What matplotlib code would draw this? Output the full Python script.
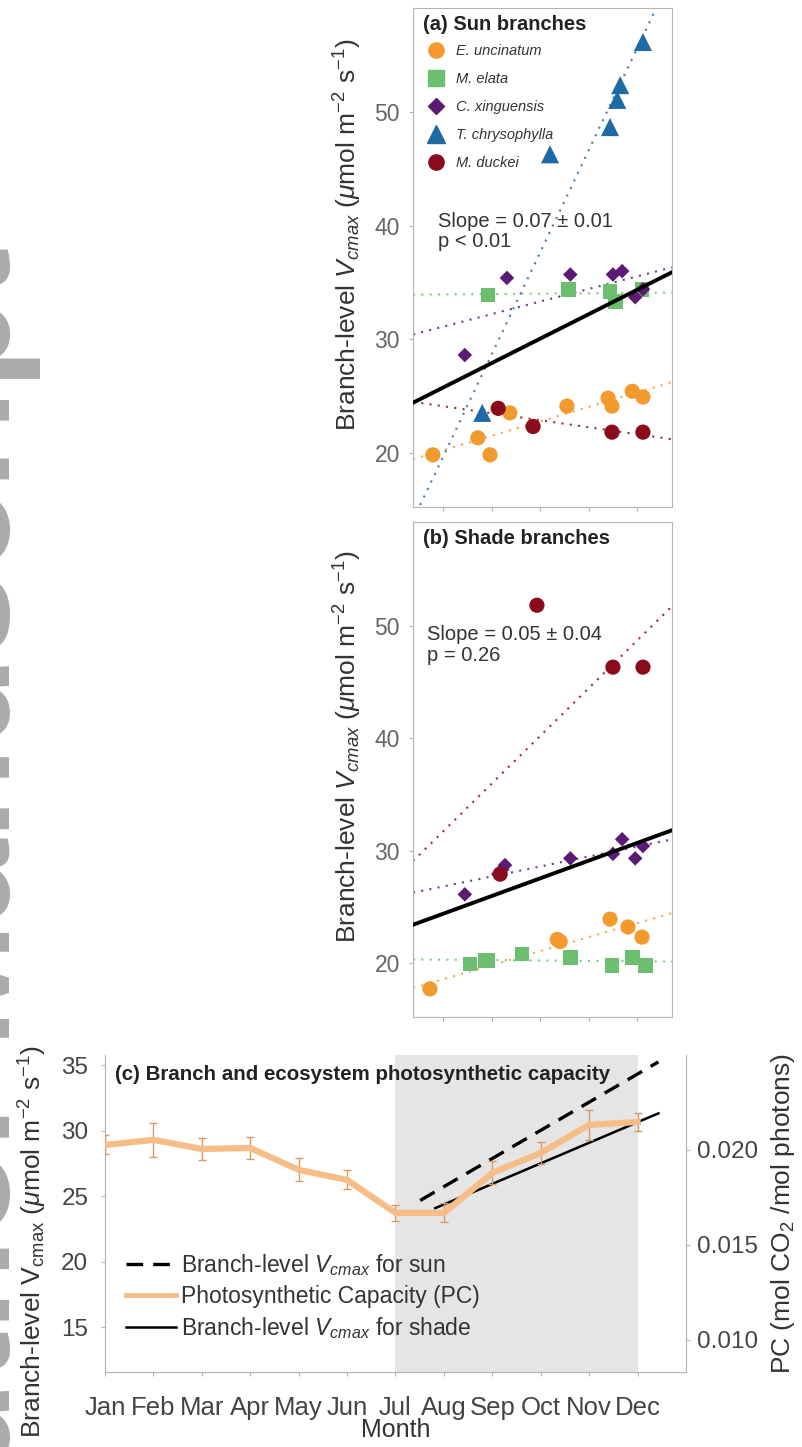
import numpy as np
import matplotlib
matplotlib.use("Agg")
import matplotlib.pyplot as plt
from matplotlib.lines import Line2D

plt.rcParams["font.family"] = ["Liberation Sans", "DejaVu Sans"]
plt.rcParams["mathtext.fontset"] = "custom"
plt.rcParams["mathtext.rm"] = "Liberation Sans"
plt.rcParams["mathtext.it"] = "Liberation Sans:italic"

# ---- data (x in decimal months, Jan = 1) ----
SPECIES = ["E. uncinatum", "M. elata", "C. xinguensis", "T. chrysophylla", "M. duckei"]
COLORS = ["#f39a2e", "#6cbf6e", "#5b1a73", "#1f6aa5", "#8a0c1c"]
MARKERS = ["o", "s", "D", "^", "o"]
SIZES = [120, 110, 55, 170, 120]

# sun branches
sun_x = {
    "E. uncinatum": [7.78, 8.71, 8.96, 9.37, 10.55, 11.40, 11.48, 11.90, 12.12],
    "M. elata": [8.92, 10.58, 11.44, 11.55, 12.10],
    "C. xinguensis": [8.44, 9.31, 10.62, 11.50, 11.69, 11.96, 12.12],
    "T. chrysophylla": [8.80, 10.20, 11.44, 11.59, 11.65, 12.12],
    "M. duckei": [9.13, 9.85, 11.48, 12.12],
}
sun_y = {
    "E. uncinatum": [19.8, 21.3, 19.8, 23.5, 24.1, 24.8, 24.1, 25.4, 24.9],
    "M. elata": [33.9, 34.4, 34.2, 33.3, 34.4],
    "C. xinguensis": [28.6, 35.4, 35.7, 35.7, 36.0, 33.7, 34.4],
    "T. chrysophylla": [23.5, 46.3, 48.7, 51.1, 52.4, 56.2],
    "M. duckei": [23.9, 22.3, 21.8, 21.8],
}
# shade branches
shade_x = {
    "E. uncinatum": [7.72, 10.35, 10.41, 11.44, 11.81, 12.10],
    "M. elata": [8.55, 8.86, 8.92, 9.62, 10.62, 11.48, 11.90, 12.17],
    "C. xinguensis": [8.44, 9.13, 9.21, 9.27, 10.62, 11.50, 11.69, 11.96, 12.12],
    "T. chrysophylla": [],
    "M. duckei": [9.17, 9.93, 11.50, 12.12],
}
shade_y = {
    "E. uncinatum": [17.7, 22.1, 21.9, 23.9, 23.2, 22.3],
    "M. elata": [19.9, 20.2, 20.2, 20.8, 20.5, 19.8, 20.5, 19.8],
    "C. xinguensis": [26.1, 27.9, 28.3, 28.7, 29.3, 29.7, 31.0, 29.3, 30.4],
    "T. chrysophylla": [],
    "M. duckei": [27.9, 51.8, 46.3, 46.3],
}

# pooled regressions (value per month)
SUN_INTERCEPT, SUN_SLOPE = 8.55, 2.15
SHADE_INTERCEPT, SHADE_SLOPE = 11.83, 1.57
SUN_RANGE = [7.51, 12.43]
SHADE_RANGE = [7.82, 12.43]
SUN_TEXT = "Slope = 0.07 ± 0.01\np < 0.01"
SHADE_TEXT = "Slope = 0.05 ± 0.04\np = 0.26"

# ecosystem photosynthetic capacity
MONTHS = ["Jan", "Feb", "Mar", "Apr", "May", "Jun", "Jul", "Aug", "Sep", "Oct", "Nov", "Dec"]
pc = [0.02026, 0.02053, 0.02005, 0.02010, 0.01895, 0.01842,
      0.01668, 0.01668, 0.01879, 0.01984, 0.02132, 0.02147]
pc_err = [0.0005, 0.0009, 0.0006, 0.0006, 0.0006, 0.0005,
          0.0004, 0.0005, 0.0006, 0.0006, 0.0008, 0.0005]
DRY_SEASON = [7, 12]

YLABEL = r"Branch-level $V_{cmax}$ ($\mu$mol m$^{-2}$ s$^{-1}$)"
SPINE = "#b5b5b5"
BRANCH_XLIM = (7.37, 12.72)

W, H = 803, 1447
fig = plt.figure(figsize=(W / 100, H / 100), dpi=100)

# watermark
fig.text(10 / W, 1 - 247 / H, "Author Manuscript", rotation=90, rotation_mode="anchor",
         ha="right", va="baseline", fontsize=108, fontweight="bold", color="#ababab")


def px_axes(l, t, r, b):
    return fig.add_axes([l / W, 1 - b / H, (r - l) / W, (b - t) / H])


def style_branch_axis(ax):
    ax.set_xlim(*BRANCH_XLIM)
    ax.set_ylim(15.2, 59.2)
    ax.set_xticks([8, 9, 10, 11, 12])
    ax.set_xticklabels([])
    ax.set_yticks([20, 30, 40, 50])
    for s in ax.spines.values():
        s.set_color(SPINE)
    ax.tick_params(colors=SPINE, labelcolor="#666666", labelsize=16.5, length=3)
    ax.tick_params(axis="y", pad=6.5)
    ax.set_ylabel(YLABEL, fontsize=19, color="#333333")
    ax.yaxis.set_label_coords(-0.19, 0.545)


def draw_branch(ax, xs, ys, icpt, slope):
    xx = np.array(BRANCH_XLIM)
    for sp, c in zip(SPECIES, COLORS):
        x, y = np.array(xs[sp]), np.array(ys[sp])
        if len(x) > 1:
            k, b = np.polyfit(x, y, 1)
            ax.plot(xx, k * xx + b, ls=(0, (1, 3)), color=c, lw=1.5, alpha=0.85, zorder=2)
    for sp, c, m, s in zip(SPECIES, COLORS, MARKERS, SIZES):
        ax.scatter(xs[sp], ys[sp], marker=m, s=s, color=c, edgecolors="none", zorder=3, label=sp)
    ax.plot(xx, icpt + slope * xx, color="black", lw=2.8, zorder=4)


# (a) sun
ax_a = px_axes(413, 8, 672, 507)
style_branch_axis(ax_a)
draw_branch(ax_a, sun_x, sun_y, SUN_INTERCEPT, SUN_SLOPE)
ax_a.text(0.04, 0.985, "(a) Sun branches", transform=ax_a.transAxes, ha="left", va="top",
          fontsize=14.5, fontweight="bold", color="#222222")
ax_a.text(0.095, 0.552, SUN_TEXT, transform=ax_a.transAxes, ha="left", va="center",
          fontsize=14.5, color="#333333", linespacing=1.1)
handles = [Line2D([], [], ls="none", marker=m, color=c, markersize=ms)
           for c, m, ms in zip(COLORS, MARKERS, [11, 11, 8, 13, 11])]
leg = ax_a.legend(handles, SPECIES, loc="upper left", bbox_to_anchor=(0.0, 0.945), frameon=False,
                  prop={"size": 10.5, "style": "italic"}, labelspacing=0.95, handletextpad=0.35,
                  borderaxespad=0.2)
for t in leg.get_texts():
    t.set_color("#333333")

# (b) shade
ax_b = px_axes(413, 522, 672, 1017)
style_branch_axis(ax_b)
draw_branch(ax_b, shade_x, shade_y, SHADE_INTERCEPT, SHADE_SLOPE)
ax_b.text(0.04, 0.985, "(b) Shade branches", transform=ax_b.transAxes, ha="left", va="top",
          fontsize=14.5, fontweight="bold", color="#222222")
ax_b.text(0.055, 0.752, SHADE_TEXT, transform=ax_b.transAxes, ha="left", va="center",
          fontsize=14.5, color="#333333", linespacing=1.1)

# (c) branch vs ecosystem
ax_c = px_axes(105, 1055, 686, 1372)
ax_c.axvspan(DRY_SEASON[0], DRY_SEASON[1], color="#e5e5e5", lw=0, zorder=0)
xs_sun = np.array(SUN_RANGE)
xs_sh = np.array(SHADE_RANGE)
l_sun, = ax_c.plot(xs_sun, SUN_INTERCEPT + SUN_SLOPE * xs_sun, color="black", ls=(0, (5, 3)), lw=2.4)
l_sh, = ax_c.plot(xs_sh, SHADE_INTERCEPT + SHADE_SLOPE * xs_sh, color="black", lw=1.8)
ax_c.set_xlim(1, 13)
ax_c.set_ylim(11.6, 35.8)
ax_c.set_yticks([15, 20, 25, 30, 35])
ax_c.set_xticks(np.arange(1, 13))
ax_c.set_xticklabels(MONTHS)
ax_c.set_xlabel("Month", fontsize=18, color="#333333", labelpad=-1)
ax_c.set_ylabel(YLABEL.replace("$V_{cmax}$", r"V$_{\mathrm{cmax}}$"), fontsize=19, color="#333333")
ax_c.yaxis.set_label_coords(-0.097, 0.41)
ax_c.spines["top"].set_visible(False)
for s in ["left", "bottom", "right"]:
    ax_c.spines[s].set_color(SPINE)
ax_c.tick_params(colors=SPINE, labelcolor="#444444", labelsize=17.5, length=3)
ax_c.tick_params(axis="x", pad=14, labelsize=18.5)
ax_c.tick_params(axis="y", pad=9)

ax_c2 = ax_c.twinx()
ax_c2.errorbar(np.arange(1, 13), pc, yerr=pc_err, color="#f6bd87", lw=4.5, ecolor="#d79a64",
               elinewidth=1, capsize=3, zorder=3)
l_pc = Line2D([], [], color="#f6bd87", lw=3.5)
ax_c2.set_ylim(0.0083, 0.025)
ax_c2.set_yticks([0.010, 0.015, 0.020])
ax_c2.set_yticklabels(["0.010", "0.015", "0.020"])
ax_c2.set_ylabel(r"PC (mol CO$_2$ /mol photons)", fontsize=19, color="#333333", labelpad=8)
ax_c2.spines["top"].set_visible(False)
for s in ax_c2.spines.values():
    s.set_color(SPINE)
ax_c2.tick_params(colors=SPINE, labelcolor="#444444", labelsize=17.5, length=3, pad=5)

leg_c = ax_c2.legend([l_sun, l_pc, l_sh],
                     [r"Branch-level $V_{cmax}$ for sun", "Photosynthetic Capacity (PC)",
                      r"Branch-level $V_{cmax}$ for shade"],
                     loc="lower left", bbox_to_anchor=(0.02, 0.07), frameon=False, fontsize=16.5,
                     handlelength=2.2, handletextpad=0.2, labelspacing=0.3, borderaxespad=0)
for t in leg_c.get_texts():
    t.set_color("#333333")
ax_c2.text(0.017, 0.97, "(c) Branch and ecosystem photosynthetic capacity", transform=ax_c.transAxes,
           ha="left", va="top", fontsize=14.8, fontweight="bold", color="#222222")

fig.savefig("out.png", dpi=100)
